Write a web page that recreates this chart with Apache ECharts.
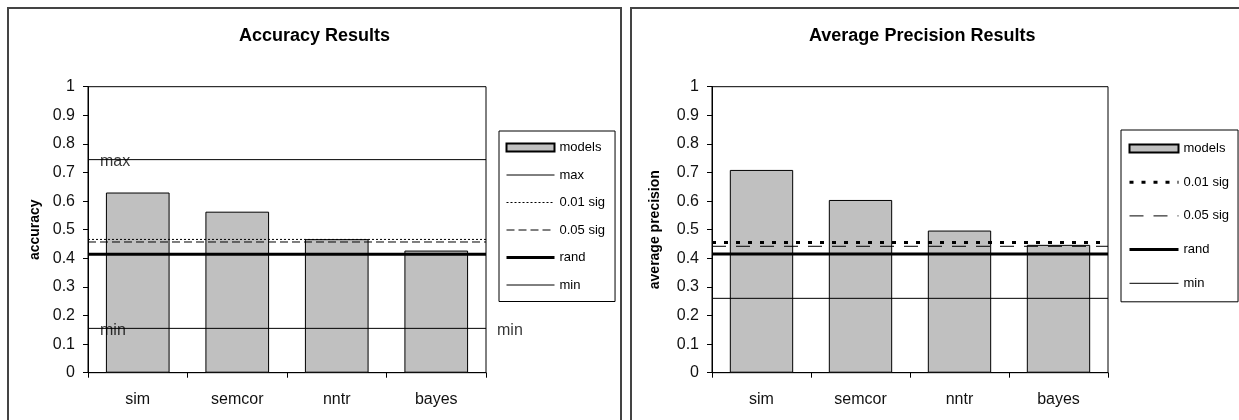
<!DOCTYPE html>
<html>
<head>
<meta charset="utf-8">
<script src="https://cdn.jsdelivr.net/npm/echarts@6/dist/echarts.min.js"></script>
<style>
  html, body { margin: 0; padding: 0; background: #fff; overflow: hidden; width: 1239px; height: 420px; }
  .chart { position: absolute; top: 0; height: 420px; }
  .frame { position: absolute; box-sizing: border-box; border: 2px solid #444; pointer-events: none; }
</style>
</head>
<body>
<div id="c1" class="chart" style="left:0;width:626px;"></div>
<div id="c2" class="chart" style="left:626px;width:613px;"></div>
<div class="frame" style="left:7px;top:7px;width:615px;height:500px;"></div>
<div class="frame" style="left:630px;top:7px;width:700px;height:500px;"></div>
<script>
// ---- data ----
var categories = ['sim', 'semcor', 'nntr', 'bayes'];
var yTicks = { min: 0, max: 1, interval: 0.1 };

var accuracyTitle = 'Accuracy Results';
var accuracyAxisName = 'accuracy';
var accuracyModels = [0.63, 0.563, 0.467, 0.427];
var accuracyMax = 0.745;
var accuracySig01 = 0.466;
var accuracySig05 = 0.457;
var accuracyRand = 0.414;
var accuracyMin = 0.155;

var apTitle = 'Average Precision Results';
var apAxisName = 'average precision';
var apModels = [0.709, 0.604, 0.497, 0.447];
var apSig01 = 0.455;
var apSig05 = 0.442;
var apRand = 0.415;
var apMin = 0.26;

var FONT = 'Liberation Sans, Arial, Helvetica, sans-serif';

function hLine(name, v, style) {
  return {
    name: name, type: 'line', xAxisIndex: 1, yAxisIndex: 0,
    data: [[0, v], [1, v]], symbol: 'none', silent: true, animation: false, clip: false,
    itemStyle: { color: '#000' },
    lineStyle: Object.assign({ color: '#000', width: 1, type: 'solid' }, style),
    z: 3
  };
}

// legend entry for a line series: line only (no symbol), with the series' line width
function lineEntry(name, width) {
  return {
    name: name,
    itemStyle: { opacity: 0, color: 'transparent', borderColor: 'transparent', borderWidth: 0 },
    lineStyle: { width: width || 1 }
  };
}

function baseOption(cfg) {
  return {
    animation: false,
    backgroundColor: 'transparent',
    title: {
      text: cfg.title, left: cfg.titleLeft, top: 22,
      textStyle: { fontFamily: FONT, fontSize: 18, fontWeight: 'bold', color: '#000' }
    },
    legend: {
      orient: 'vertical', left: cfg.legend.left, top: cfg.legend.top,
      padding: cfg.legend.padding, itemGap: cfg.legend.gap,
      itemWidth: cfg.legend.itemWidth, itemHeight: 13,
      borderColor: '#000', borderWidth: 1, selectedMode: false,
      textStyle: { fontFamily: FONT, fontSize: 13, color: '#000' },
      data: cfg.legendData
    },
    grid: {
      left: cfg.grid.left, top: 86.7, width: cfg.grid.width, height: 286,
      show: true, borderColor: '#000', borderWidth: 1, backgroundColor: 'transparent'
    },
    xAxis: [
      {
        type: 'category', data: categories, boundaryGap: true,
        axisLine: { lineStyle: { color: '#000', width: 1 } },
        axisTick: { show: true, length: 5, lineStyle: { color: '#000' } },
        axisLabel: { fontFamily: FONT, fontSize: 16, color: '#111', margin: 19 },
        splitLine: { show: false }
      },
      { type: 'value', min: 0, max: 1, show: false }
    ],
    yAxis: {
      type: 'value', min: yTicks.min, max: yTicks.max, interval: yTicks.interval,
      name: cfg.axisName, nameLocation: 'middle', nameGap: cfg.nameGap,
      nameTextStyle: { fontFamily: FONT, fontSize: 14, fontWeight: 'bold', color: '#000' },
      axisLine: { show: true, lineStyle: { color: '#000', width: 1 } },
      axisTick: { show: true, length: 5, lineStyle: { color: '#000' } },
      axisLabel: { fontFamily: FONT, fontSize: 16, color: '#111', margin: 13 },
      splitLine: { show: false }
    },
    series: cfg.series
  };
}

// ---- left chart ----
var leftSeries = [
  {
    name: 'models', type: 'bar', data: accuracyModels, barWidth: '64%',
    itemStyle: { color: '#c0c0c0', borderColor: '#000', borderWidth: 1 }, z: 2
  },
  hLine('max', accuracyMax, {}),
  hLine('0.01 sig', accuracySig01, { type: [2, 2] }),
  hLine('0.05 sig', accuracySig05, { type: [8, 4] }),
  hLine('rand', accuracyRand, { width: 3 }),
  hLine('min', accuracyMin, {}),
  {
    type: 'scatter', xAxisIndex: 1, yAxisIndex: 0, symbolSize: 0, silent: true, clip: false, z: 5,
    data: [
      { name: 'max', value: [0, accuracyMax] },
      { name: 'min', value: [0, accuracyMin] },
      { name: 'min', value: [1, accuracyMin], label: { distance: 11 } }
    ],
    label: {
      show: true, position: 'right', distance: 12, offset: [0, 2], formatter: '{b}',
      fontFamily: FONT, fontSize: 16, color: '#000'
    }
  }
];

var c1 = echarts.init(document.getElementById('c1'), null, { renderer: 'canvas' });
c1.setOption(baseOption({
  title: accuracyTitle, titleLeft: 234, axisName: accuracyAxisName, nameGap: 46,
  grid: { left: 88, width: 398 },
  legend: { left: 499, top: 131, padding: [10, 10, 10, 6], gap: 14.5, itemWidth: 48 },
  legendData: [{ name: 'models', icon: 'path://M0 0H48V8H0Z' },
    lineEntry('max', 1), lineEntry('0.01 sig', 1), lineEntry('0.05 sig', 1), lineEntry('rand', 3), lineEntry('min', 1)],
  series: leftSeries
}));

// ---- right chart ----
var rightSeries = [
  {
    name: 'models', type: 'bar', data: apModels, barWidth: '64%',
    itemStyle: { color: '#c0c0c0', borderColor: '#000', borderWidth: 1 }, z: 2
  },
  hLine('0.01 sig', apSig01, { width: 3, type: [4, 8] }),
  hLine('0.05 sig', apSig05, { type: [14, 10] }),
  hLine('rand', apRand, { width: 3 }),
  hLine('min', apMin, {})
];

var c2 = echarts.init(document.getElementById('c2'), null, { renderer: 'canvas' });
c2.setOption(baseOption({
  title: apTitle, titleLeft: 178, axisName: apAxisName, nameGap: 50,
  grid: { left: 86, width: 396 },
  legend: { left: 495, top: 130, padding: [12, 9, 12, 7], gap: 20.7, itemWidth: 49 },
  legendData: [{ name: 'models', icon: 'path://M0 0H49V8H0Z' },
    lineEntry('0.01 sig', 3), lineEntry('0.05 sig', 1), lineEntry('rand', 3), lineEntry('min', 1)],
  series: rightSeries
}));
</script>
</body>
</html>
